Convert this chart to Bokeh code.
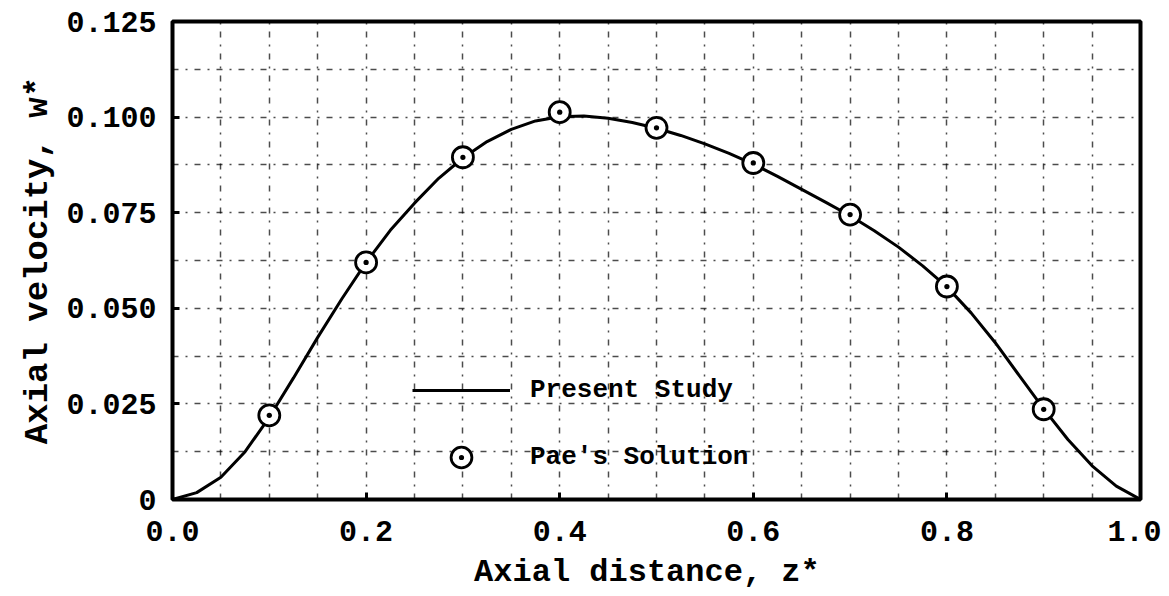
from bokeh.plotting import figure
from bokeh.models import FixedTicker, Legend, LegendItem, Range1d
from bokeh.embed import file_html
from bokeh.resources import INLINE

# Present Study (curve)
z_curve = [0.000, 0.025, 0.050, 0.075, 0.100, 0.125, 0.150, 0.175, 0.200, 0.225,
           0.250, 0.275, 0.300, 0.325, 0.350, 0.375, 0.400, 0.425, 0.450, 0.475,
           0.500, 0.525, 0.550, 0.575, 0.600, 0.625, 0.650, 0.675, 0.700, 0.725,
           0.750, 0.775, 0.800, 0.825, 0.850, 0.875, 0.900, 0.925, 0.950, 0.975, 1.000]
w_curve = [0.0000, 0.0018, 0.0058, 0.0125, 0.0215, 0.0318, 0.0424, 0.0525, 0.0620, 0.0704,
           0.0775, 0.0840, 0.0893, 0.0936, 0.0968, 0.0990, 0.1001, 0.1003, 0.0997, 0.0986,
           0.0971, 0.0952, 0.0930, 0.0905, 0.0877, 0.0845, 0.0811, 0.0777, 0.0742, 0.0703,
           0.0660, 0.0611, 0.0556, 0.0488, 0.0410, 0.0323, 0.0237, 0.0157, 0.0088, 0.0035, 0.0000]

# Pae's Solution (points)
z_pts = [0.1, 0.2, 0.3, 0.4, 0.5, 0.6, 0.7, 0.8, 0.9]
w_pts = [0.0220, 0.0620, 0.0895, 0.1013, 0.0972, 0.0880, 0.0745, 0.0557, 0.0236]

x_ticks = [0.0, 0.2, 0.4, 0.6, 0.8, 1.0]
x_tick_labels = ["0.0", "0.2", "0.4", "0.6", "0.8", "1.0"]
y_ticks = [0.0, 0.025, 0.050, 0.075, 0.100, 0.125]
y_tick_labels = ["0", "0.025", "0.050", "0.075", "0.100", "0.125"]
x_grid = [0.05, 0.1, 0.15, 0.2, 0.25, 0.3, 0.35, 0.4, 0.45, 0.5, 0.55, 0.6, 0.65, 0.7, 0.75, 0.8, 0.85, 0.9, 0.95]
y_grid = [0.0125, 0.025, 0.0375, 0.05, 0.0625, 0.075, 0.0875, 0.1, 0.1125]

FONT = "Liberation Mono"

p = figure(width=1161, height=596, output_backend="svg", toolbar_location=None,
           x_range=Range1d(0, 1.0), y_range=Range1d(0, 0.125),
           min_border_left=172, min_border_right=21, min_border_top=21, min_border_bottom=97)
p.background_fill_color = "white"
p.border_fill_color = "white"
p.outline_line_color = "black"
p.outline_line_width = 4

# grids
p.xgrid.ticker = FixedTicker(ticks=x_grid)
p.ygrid.ticker = FixedTicker(ticks=y_grid)
for g in (p.xgrid, p.ygrid):
    g.grid_line_color = "black"
    g.grid_line_width = 1.5
    g.grid_line_alpha = 0.7
    g.grid_line_dash = "6 7 2 7"

# axes
for ax in (p.xaxis, p.yaxis):
    ax.axis_line_color = None
    ax.major_tick_in = 7
    ax.major_tick_out = 0
    ax.major_tick_line_width = 3
    ax.major_tick_line_color = "black"
    ax.minor_tick_line_color = None
    ax.major_label_text_font = FONT
    ax.major_label_text_font_style = "bold"
    ax.major_label_text_font_size = "30px"
    ax.major_label_text_color = "black"
    ax.axis_label_text_font = FONT
    ax.axis_label_text_font_style = "bold"
    ax.axis_label_text_color = "black"

p.xaxis.axis_label_text_font_size = "32px"
p.yaxis.axis_label_text_font_size = "34px"
p.xaxis.ticker = FixedTicker(ticks=x_ticks)
p.yaxis.ticker = FixedTicker(ticks=y_ticks)
p.xaxis.major_label_overrides = {t: s for t, s in zip(x_ticks, x_tick_labels)}
p.yaxis.major_label_overrides = {t: s for t, s in zip(y_ticks, y_tick_labels)}
p.xaxis.major_label_standoff = 21
p.yaxis.major_label_standoff = 16
p.xaxis.axis_label = "Axial distance, z*\u00a0"
p.yaxis.axis_label = "Axial velocity, w*"
p.xaxis.axis_label_standoff = 10
p.yaxis.axis_label_standoff = 6

line_r = p.line(z_curve, w_curve, line_color="black", line_width=3)
pts_r = p.scatter(z_pts, w_pts, marker="circle_dot", size=21, fill_color="white",
                  line_color="black", line_width=2.8)

legend = Legend(items=[LegendItem(label="Present Study", renderers=[line_r]),
                       LegendItem(label="Pae's Solution", renderers=[pts_r])],
                location=(240, 16), orientation="vertical")
legend.background_fill_alpha = 0
legend.border_line_color = None
legend.padding = 0
legend.margin = 0
legend.glyph_width = 98
legend.glyph_height = 52
legend.label_height = 52
legend.label_standoff = 20
legend.spacing = 15
legend.label_text_font = FONT
legend.label_text_font_style = "bold"
legend.label_text_font_size = "26px"
legend.label_text_color = "black"
p.add_layout(legend)

open("out.html", "w").write(file_html(p, INLINE))
